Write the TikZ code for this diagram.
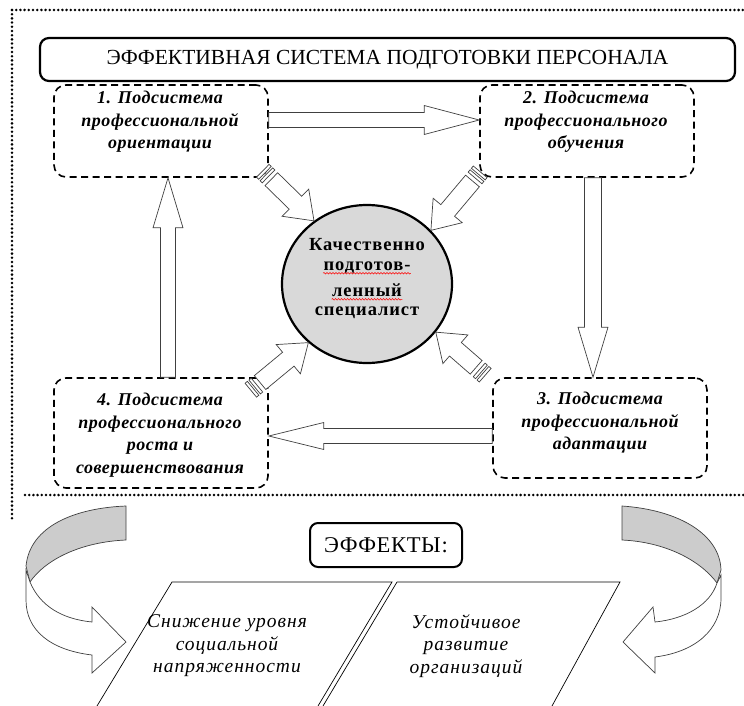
\documentclass[tikz,border=0pt]{standalone}
\usepackage{fontspec}
\setmainfont{Liberation Serif}
\usetikzlibrary{calc,shapes.geometric,decorations.pathmorphing}

\newcommand\blockarr[5]{%
  \coordinate (ba) at ($(#2)!#5!(#1)$);
  \draw[blockline] ($(#1)!#3!90:(#2)$) -- ($(ba)!#3!90:(#2)$) -- ($(ba)!#4!90:(#2)$) -- (#2)
    -- ($(ba)!#4!-90:(#2)$) -- ($(ba)!#3!-90:(#2)$) -- ($(#1)!#3!-90:(#2)$) -- cycle;
}
\newcommand\stripedarr[2]{%
  \coordinate (sa) at ($(#1)!12pt!(#2)$);
  \blockarr{sa}{#2}{9pt}{19pt}{26pt}
  \foreach \da/\db in {0/3,5/8} {
    \coordinate (sp) at ($(#1)!\da pt!(#2)$);
    \coordinate (sq) at ($(#1)!\db pt!(#2)$);
    \draw[blockline] ($(sp)!9pt!90:(#2)$) -- ($(sq)!9pt!90:(#2)$) -- ($(sq)!9pt!-90:(#2)$) -- ($(sp)!9pt!-90:(#2)$) -- cycle;
  }
}

\begin{document}
\begin{tikzpicture}[x=1pt, y=-1pt,
  blockline/.style={draw=black!75, fill=white, line width=0.7pt},
  sysbox/.style={draw, dash pattern=on 7pt off 4.5pt, line width=1.6pt, rounded corners=12pt, minimum width=214pt},
  systext/.style={align=center, font=\fontsize{18pt}{22.5pt}\selectfont\bfseries\itshape\addfontfeature{LetterSpace=3}},
  efftext/.style={align=center, font=\fontsize{19.5pt}{22.5pt}\selectfont\itshape\addfontfeature{LetterSpace=5}},
  dotline/.style={line width=2.8pt, dash pattern=on 0pt off 4.2pt, line cap=round},
  wavyline/.style={red, line width=0.5pt, decorate, decoration={snake, segment length=3pt, amplitude=0.8pt}}]
\useasboundingbox (0,0) rectangle (744,706);

\draw[dotline] (12,10) -- (744,10);
\draw[dotline] (12,10) -- (12,520);
\draw[dotline] (25,495) -- (744,495);

\node[draw, line width=2.2pt, rounded corners=9pt, minimum width=695pt, minimum height=43pt, font=\fontsize{21.5pt}{24pt}\selectfont] (title) at (387.5,59.5) {ЭФФЕКТИВНАЯ СИСТЕМА ПОДГОТОВКИ ПЕРСОНАЛА};

\node[sysbox, minimum height=92pt] (b1) at (161,131) {};
\node[sysbox, minimum height=92pt] (b2) at (587,131) {};
\node[sysbox, minimum height=100pt] (b3) at (600,428) {};
\node[sysbox, minimum height=110pt] (b4) at (161,433) {};
\node[systext] (t1) at (160,122) {1. Подсистема\\профессиональной\\ориентации};
\node[systext] (t2) at (586,122) {2. Подсистема\\профессионального\\обучения};
\node[systext] (t3) at (600,423) {3. Подсистема\\профессиональной\\адаптации};
\node[systext] (t4) at (160,435) {4. Подсистема\\профессионального\\роста и\\совершенствования};

\node[ellipse, draw, line width=2.2pt, fill=black!15, minimum width=170pt, minimum height=158pt] (spec) at (367,284) {};
\foreach \t [count=\i] in {Качественно, подготов-, ленный, специалист}
  \node[font=\fontsize{18.5pt}{22.5pt}\selectfont\bfseries\addfontfeature{LetterSpace=5}] (l\i) at (367,222.5+22.5*\i) {\t};
\foreach \i in {2,3}
  \draw[wavyline] ($(l\i.base west)+(3,3)$) -- ($(l\i.base east)+(-3,3)$);

\coordinate (a12) at ($(b1.east)+(0,-11)$);
\coordinate (a21) at ($(b2.west)+(0,-11)$);
\coordinate (a23) at ($(b2.south)+(6,0)$);
\coordinate (a32) at (b3.north -| a23);
\coordinate (a34) at ($(b3.west)+(0,8)$);
\coordinate (a43) at (b4.east |- a34);
\coordinate (a41) at ($(b4.north)+(7,0)$);
\coordinate (a14) at (b1.south -| a41);
\blockarr{a12}{a21}{7.5pt}{14.5pt}{55pt}
\blockarr{a23}{a32}{8.5pt}{15pt}{50pt}
\blockarr{a34}{a43}{7.5pt}{13.5pt}{55pt}
\blockarr{a41}{a14}{7.5pt}{15pt}{50pt}

\coordinate (s1) at ($(b1.south east)+(-6,-7)$);
\coordinate (s2) at ($(b2.south west)+(1,-6)$);
\coordinate (s3) at ($(b4.north east)+(-18,13)$);
\coordinate (s4) at ($(b3.north west)+(-7,-2)$);
\stripedarr{s1}{spec.130}
\stripedarr{s2}{spec.40}
\stripedarr{s3}{spec.225}
\stripedarr{s4}{spec.325}

\node[draw, line width=2pt, rounded corners=8pt, minimum width=152pt, minimum height=44pt, font=\fontsize{22.5pt}{24pt}\selectfont\addfontfeature{LetterSpace=3}] (eff) at (386,545) {ЭФФЕКТЫ:};

\draw[line width=0.7pt] (97,706) -- (172,582) -- (392,582) -- (318,706);
\draw[line width=0.7pt] (323,706) -- (397,582) -- (620,582) -- (552,706);
\node[efftext] (e1) at (227,646) {Снижение уровня\\социальной\\напряженности};
\node[efftext] (e2) at (466,646) {Устойчивое\\развитие\\организаций};

\draw[blockline, fill=black!20] (126,506) .. controls (75,508) and (30,526) .. (26,566) -- (30,582) .. controls (45,560) and (80,542) .. (126,540) -- cycle;
\draw[blockline] (30,582) .. controls (40,606) and (62,619) .. (92,622) -- (92,607) -- (126,642) -- (92,673) -- (92,655) .. controls (50,650) and (26,630) .. (26,600) -- (26,570) -- cycle;
\draw[blockline, fill=black!20] (622,506) .. controls (680,510) and (720,535) .. (721,570) -- (717,583) .. controls (700,560) and (665,542) .. (622,540) -- cycle;
\draw[blockline] (717,583) .. controls (710,605) and (685,619) .. (655,622) -- (653,607) -- (623,642) -- (655,673) -- (655,657) .. controls (695,652) and (721,630) .. (721,598) -- (721,575) -- cycle;
\end{tikzpicture}
\end{document}
